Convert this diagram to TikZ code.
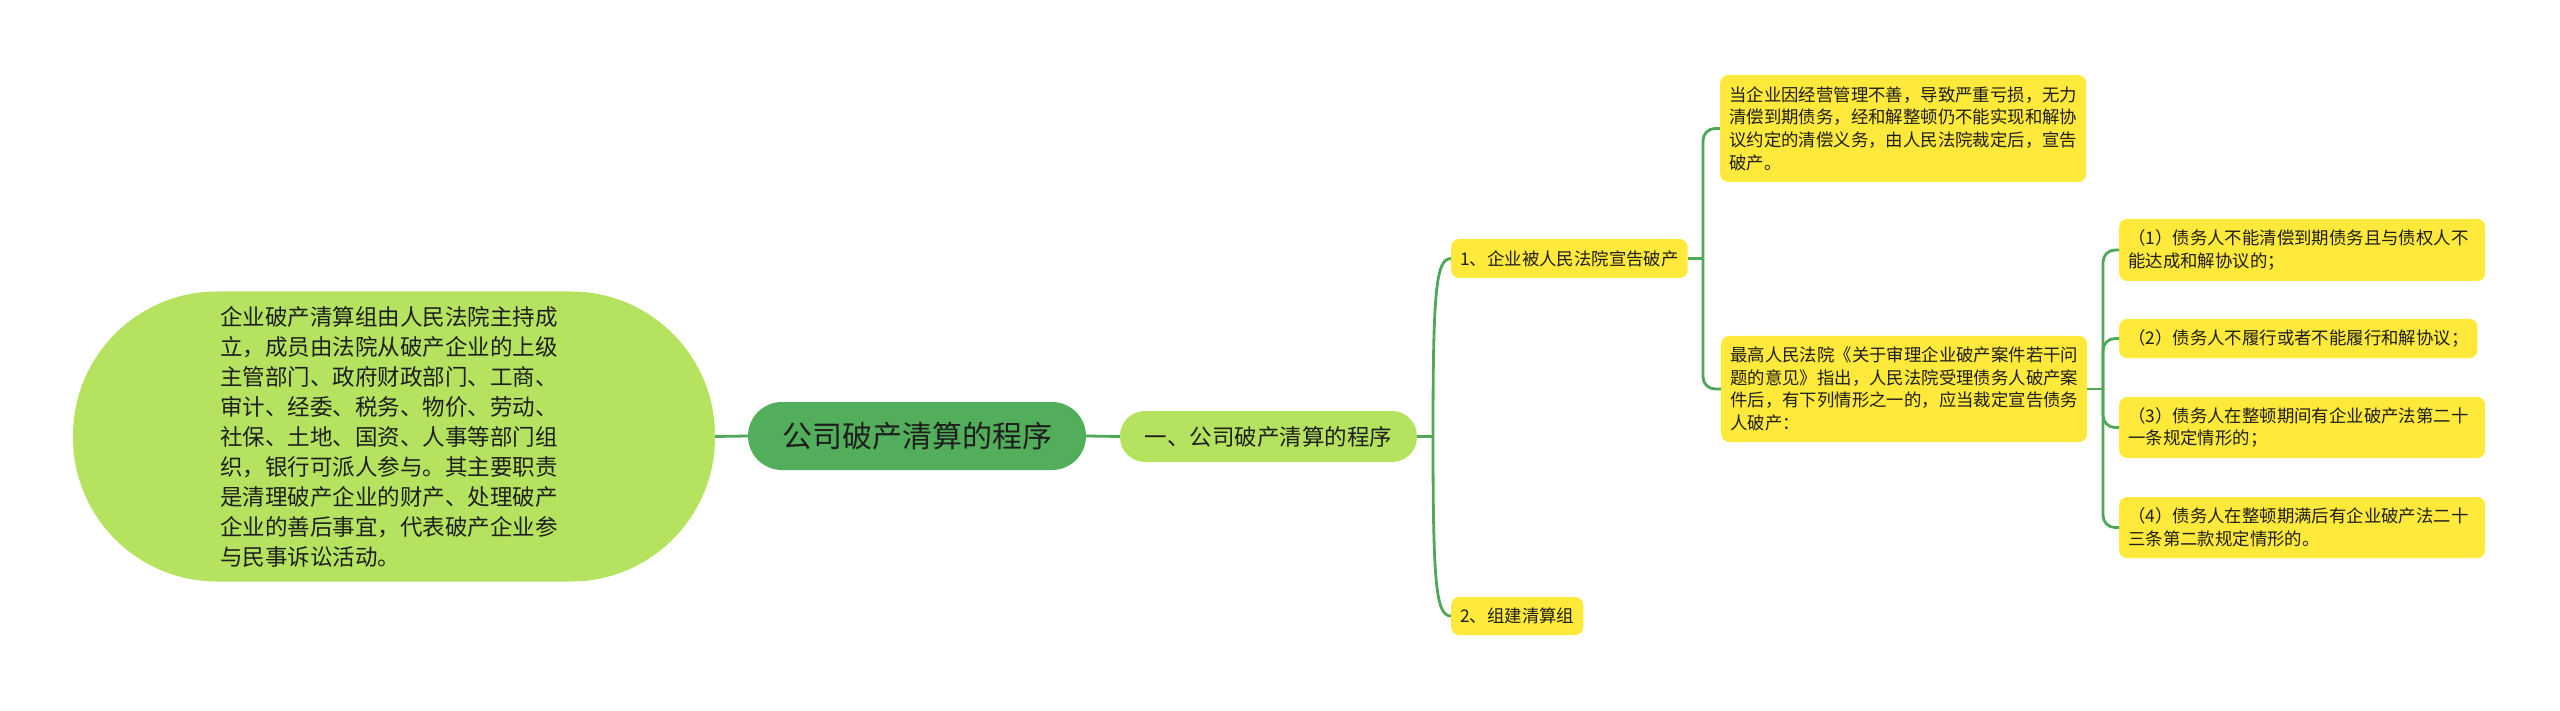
\documentclass[tikz,border=0pt]{standalone}
\usepackage{fontspec}
\setmainfont{Noto Sans CJK SC}
\definecolor{lgreen}{HTML}{B5E35F}
\definecolor{dgreen}{HTML}{52AE5A}
\definecolor{yel}{HTML}{FFE93B}
\definecolor{edgecol}{HTML}{4EA858}
\definecolor{txt}{HTML}{1E1E1E}
\tikzset{
  link/.style={draw=edgecol, line width=2.8pt},
  ybox/.style={fill=yel, rounded corners=8pt, anchor=west, inner xsep=9pt, inner ysep=0pt,
    align=left, text=txt, font=\fontsize{17.4}{22.6}\selectfont},
  gbubble/.style={fill=lgreen, text=txt, inner sep=0pt, align=left},
}
\begin{document}
\begin{tikzpicture}[x=1pt,y=-1pt]
\useasboundingbox (0,0) rectangle (2560,711);

\node[gbubble, minimum width=642pt, minimum height=290pt, rounded corners=144pt] (ell) at (394,436.5) {};
\node[text=txt, align=left, inner sep=0pt, font=\fontsize{22.5}{30}\selectfont] (elltext) at (389,436.5)
  {企业破产清算组由人民法院主持成\\立，成员由法院从破产企业的上级\\主管部门、政府财政部门、工商、\\审计、经委、税务、物价、劳动、\\社保、土地、国资、人事等部门组\\织，银行可派人参与。其主要职责\\是清理破产企业的财产、处理破产\\企业的善后事宜，代表破产企业参\\与民事诉讼活动。};

\node[fill=dgreen, text=txt, minimum width=338pt, minimum height=68pt, rounded corners=34pt,
  inner sep=0pt, font=\fontsize{30}{36}\selectfont] (root) at (917,436) {公司破产清算的程序};

\node[gbubble, minimum width=297pt, minimum height=51pt, rounded corners=25pt,
  font=\fontsize{22.5}{28}\selectfont] (s1) at (1268.5,436.5) {一、公司破产清算的程序};

\node[ybox, minimum height=39pt] (n1) at (1451,258.5) {1、企业被人民法院宣告破产};
\node[ybox, minimum height=38pt] (n2) at (1451,616) {2、组建清算组};

\node[ybox, minimum height=107pt] (na) at (1720,128.5)
  {当企业因经营管理不善，导致严重亏损，无力\\清偿到期债务，经和解整顿仍不能实现和解协\\议约定的清偿义务，由人民法院裁定后，宣告\\破产。};
\node[ybox, minimum height=106pt] (nb) at (1721,389)
  {最高人民法院《关于审理企业破产案件若干问\\题的意见》指出，人民法院受理债务人破产案\\件后，有下列情形之一的，应当裁定宣告债务\\人破产：};

\node[ybox, minimum height=62pt, text width=348pt] (c1) at (2119,250)
  {（1）债务人不能清偿到期债务且与债权人不\\能达成和解协议的；};
\node[ybox, minimum height=39pt] (c2) at (2119,338.5)
  {（2）债务人不履行或者不能履行和解协议；};
\node[ybox, minimum height=61pt, text width=348pt] (c3) at (2119,427.5)
  {（3）债务人在整顿期间有企业破产法第二十\\一条规定情形的；};
\node[ybox, minimum height=61pt, text width=348pt] (c4) at (2119,527.5)
  {（4）债务人在整顿期满后有企业破产法二十\\三条第二款规定情形的。};

\draw[link] (ell.east) -- (root.west);
\draw[link] (root.east) -- (s1.west);

\coordinate (j1) at (1433,436.5);
\draw[link] (s1.east) -- (j1);
\draw[link] (j1) .. controls (1433,290) and (1436,258.5) .. (n1.west);
\draw[link] (j1) .. controls (1433,585) and (1436,616) .. (n2.west);

\coordinate (j2) at (1703,258.5);
\draw[link] (n1.east) -- (j2);
\draw[link, rounded corners=12pt] (j2) |- (na.west);
\draw[link, rounded corners=12pt] (j2) |- (nb.west);

\coordinate (j3) at (2103,389);
\draw[link] (nb.east) -- (j3);
\draw[link, rounded corners=12pt] (j3) |- (c1.west);
\draw[link, rounded corners=12pt] (j3) |- (c2.west);
\draw[link, rounded corners=12pt] (j3) |- (c3.west);
\draw[link, rounded corners=12pt] (j3) |- (c4.west);
\end{tikzpicture}
\end{document}
